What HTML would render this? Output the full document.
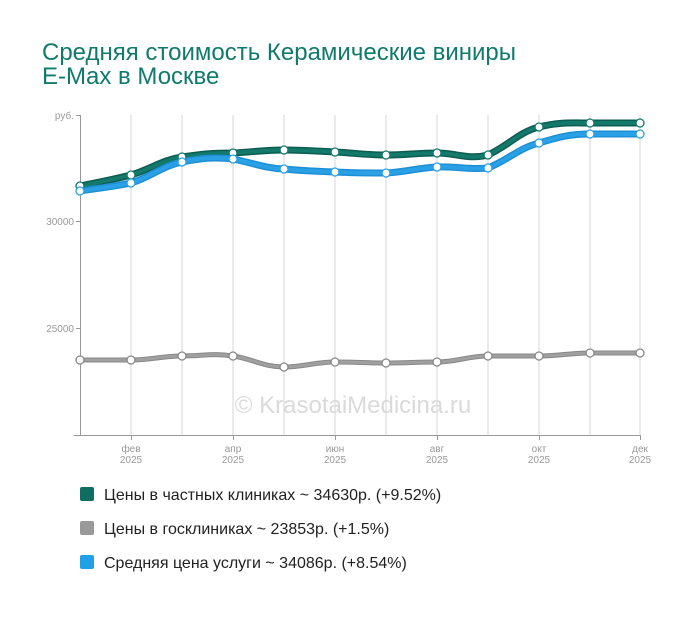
<!DOCTYPE html>
<html><head><meta charset="utf-8"><style>
body{margin:0;background:#fff;width:700px;height:612px;overflow:hidden;font-family:"Liberation Sans",sans-serif}
</style></head><body>
<svg width="700" height="612" xmlns="http://www.w3.org/2000/svg" font-family="Liberation Sans, sans-serif">
<text x="42" y="60" font-size="24" fill="#107a6c">Средняя стоимость Керамические виниры</text>
<text x="42" y="84" font-size="24" fill="#107a6c">E-Max в Москве</text>
<g stroke="#d6d6d6" stroke-width="1">
<line x1="131" y1="115" x2="131" y2="435"/><line x1="182" y1="115" x2="182" y2="435"/><line x1="233" y1="115" x2="233" y2="435"/><line x1="284" y1="115" x2="284" y2="435"/><line x1="335" y1="115" x2="335" y2="435"/><line x1="386" y1="115" x2="386" y2="435"/><line x1="437" y1="115" x2="437" y2="435"/><line x1="488" y1="115" x2="488" y2="435"/><line x1="539" y1="115" x2="539" y2="435"/><line x1="590" y1="115" x2="590" y2="435"/><line x1="640" y1="115" x2="640" y2="435"/>
</g>
<g stroke="#999" stroke-width="1">
<line x1="80.5" y1="115" x2="80.5" y2="435"/><line x1="74" y1="435.5" x2="640" y2="435.5"/>
<line x1="76" y1="115.5" x2="80" y2="115.5"/><line x1="76" y1="221.5" x2="80" y2="221.5"/><line x1="76" y1="328.5" x2="80" y2="328.5"/>
<line x1="131.5" y1="435" x2="131.5" y2="440"/><line x1="233.5" y1="435" x2="233.5" y2="440"/><line x1="335.5" y1="435" x2="335.5" y2="440"/><line x1="437.5" y1="435" x2="437.5" y2="440"/><line x1="539.5" y1="435" x2="539.5" y2="440"/><line x1="640.5" y1="435" x2="640.5" y2="440"/>
</g>
<g font-size="10" fill="#999" text-anchor="end">
<text x="74" y="119">руб.</text><text x="74" y="225">30000</text><text x="74" y="332">25000</text>
</g>
<g font-size="10" fill="#999" text-anchor="middle">
<text x="131" y="452">фев</text><text x="131" y="463">2025</text>
<text x="233" y="452">апр</text><text x="233" y="463">2025</text>
<text x="335" y="452">июн</text><text x="335" y="463">2025</text>
<text x="437" y="452">авг</text><text x="437" y="463">2025</text>
<text x="539" y="452">окт</text><text x="539" y="463">2025</text>
<text x="640" y="452">дек</text><text x="640" y="463">2025</text>
</g>
<text x="353" y="413" font-size="24" fill="#dadada" text-anchor="middle">© KrasotaiMedicina.ru</text>
<g fill="none" stroke-linejoin="round" stroke-linecap="round">
<path d="M80,360 C100,360 111,360 131,360 C151,360 162,356 182,356 C202,356 213,353 233,356 C253,359 264,367 284,367 C304,367 315,362 335,362 C355,362 366,363 386,363 C406,363 417,362 437,362 C457,362 468,356 488,356 C508,356 519,356 539,356 C559,356 570,353 590,353 C610,353 620,353 640,353" stroke="#888" stroke-width="5"/>
<path d="M80,360 C100,360 111,360 131,360 C151,360 162,356 182,356 C202,356 213,353 233,356 C253,359 264,367 284,367 C304,367 315,362 335,362 C355,362 366,363 386,363 C406,363 417,362 437,362 C457,362 468,356 488,356 C508,356 519,356 539,356 C559,356 570,353 590,353 C610,353 620,353 640,353" stroke="#a0a0a0" stroke-width="3"/>
<path d="M80,186 C100,182 111,180 131,175 C151,169 162,160 182,157 C202,154 213,153 233,153 C253,152 264,150 284,150 C304,150 315,151 335,152 C355,153 366,155 386,155 C406,155 417,153 437,153 C457,153 468,160 488,155 C508,146 519,132 539,127 C559,122 570,123 590,123 C610,123 620,123 640,123" stroke="#0c5c52" stroke-width="7"/>
<path d="M80,186 C100,182 111,180 131,175 C151,169 162,160 182,157 C202,154 213,153 233,153 C253,152 264,150 284,150 C304,150 315,151 335,152 C355,153 366,155 386,155 C406,155 417,153 437,153 C457,153 468,160 488,155 C508,146 519,132 539,127 C559,122 570,123 590,123 C610,123 620,123 640,123" stroke="#13796b" stroke-width="4"/>
<path d="M80,191 C100,188 111,187 131,183 C151,177 162,166 182,162 C202,158 213,157 233,159 C253,163 264,168 284,169 C304,171 315,171 335,172 C355,173 366,173 386,173 C406,172 417,168 437,167 C457,166 468,170 488,168 C508,160 519,148 539,143 C559,137 570,134 590,134 C610,134 620,134 640,134" stroke="#1f8fd4" stroke-width="7"/>
<path d="M80,191 C100,188 111,187 131,183 C151,177 162,166 182,162 C202,158 213,157 233,159 C253,163 264,168 284,169 C304,171 315,171 335,172 C355,173 366,173 386,173 C406,172 417,168 437,167 C457,166 468,170 488,168 C508,160 519,148 539,143 C559,137 570,134 590,134 C610,134 620,134 640,134" stroke="#2aa0e6" stroke-width="4"/>
</g>
<g fill="#fff" stroke-width="1.3">
<g stroke="#888"><circle cx="80" cy="360" r="4"/><circle cx="131" cy="360" r="4"/><circle cx="182" cy="356" r="4"/><circle cx="233" cy="356" r="4"/><circle cx="284" cy="367" r="4"/><circle cx="335" cy="362" r="4"/><circle cx="386" cy="363" r="4"/><circle cx="437" cy="362" r="4"/><circle cx="488" cy="356" r="4"/><circle cx="539" cy="356" r="4"/><circle cx="590" cy="353" r="4"/><circle cx="640" cy="353" r="4"/></g>
<g stroke="#13796b"><circle cx="80" cy="186" r="4"/><circle cx="131" cy="175" r="4"/><circle cx="182" cy="157" r="4"/><circle cx="233" cy="153" r="4"/><circle cx="284" cy="150" r="4"/><circle cx="335" cy="152" r="4"/><circle cx="386" cy="155" r="4"/><circle cx="437" cy="153" r="4"/><circle cx="488" cy="155" r="4"/><circle cx="539" cy="127" r="4"/><circle cx="590" cy="123" r="4"/><circle cx="640" cy="123" r="4"/></g>
<g stroke="#2aa0e6"><circle cx="80" cy="191" r="4"/><circle cx="131" cy="183" r="4"/><circle cx="182" cy="162" r="4"/><circle cx="233" cy="159" r="4"/><circle cx="284" cy="169" r="4"/><circle cx="335" cy="172" r="4"/><circle cx="386" cy="173" r="4"/><circle cx="437" cy="167" r="4"/><circle cx="488" cy="168" r="4"/><circle cx="539" cy="143" r="4"/><circle cx="590" cy="134" r="4"/><circle cx="640" cy="134" r="4"/></g>
</g>
<rect x="80" y="487" width="14" height="14" rx="2" fill="#0f6e61"/>
<rect x="80" y="521" width="14" height="14" rx="2" fill="#999"/>
<rect x="80" y="555" width="14" height="14" rx="2" fill="#22a0e6"/>
<g font-size="16" fill="#222">
<text x="104" y="500">Цены в частных клиниках ~ 34630р. (+9.52%)</text>
<text x="104" y="534">Цены в госклиниках ~ 23853р. (+1.5%)</text>
<text x="104" y="568">Средняя цена услуги ~ 34086р. (+8.54%)</text>
</g>
</svg>
</body></html>
